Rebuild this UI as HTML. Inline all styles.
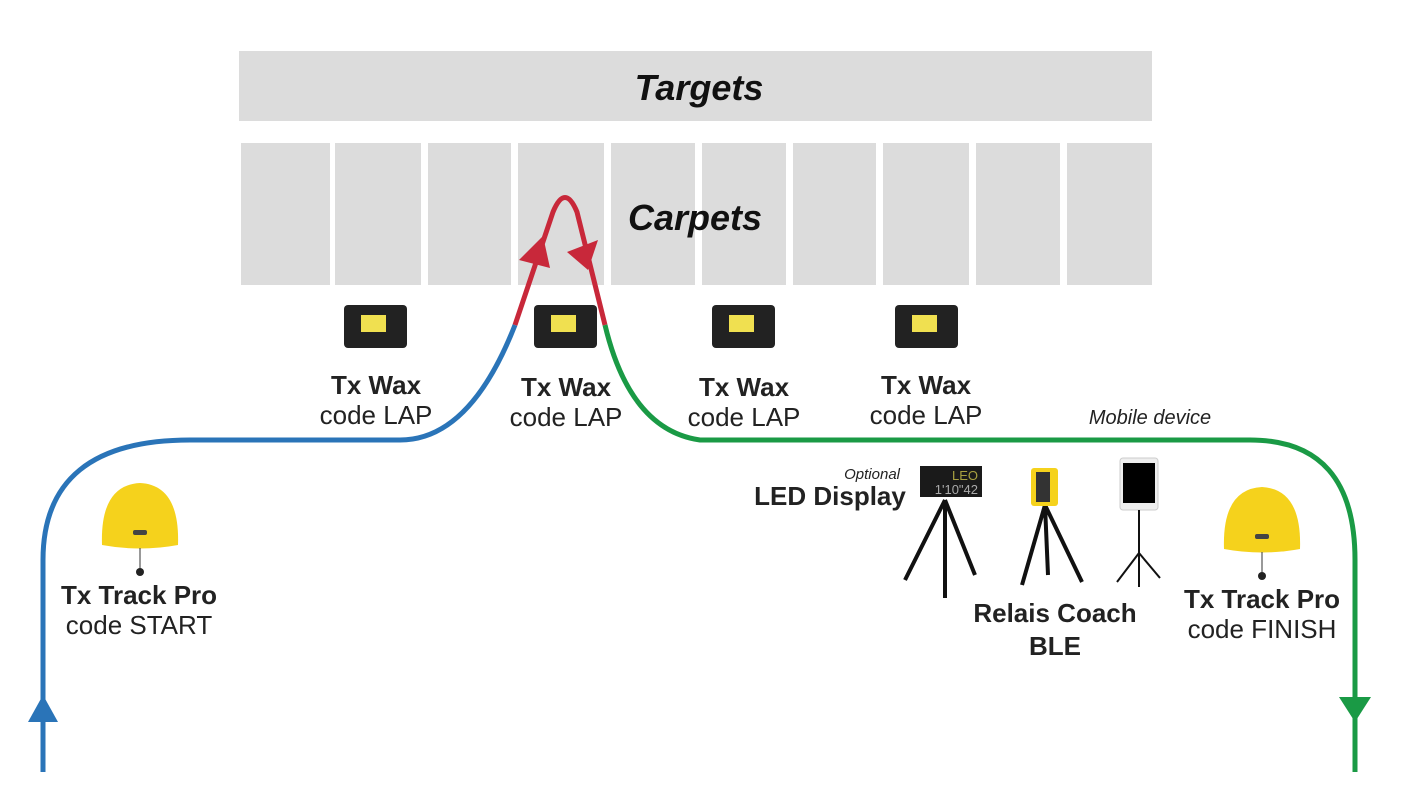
<!DOCTYPE html>
<html><head><meta charset="utf-8"><style>
body{margin:0;width:1408px;height:794px;background:#fff;overflow:hidden;font-family:"Liberation Sans",sans-serif}
</style></head><body>
<svg width="1408" height="794" xmlns="http://www.w3.org/2000/svg" font-family="Liberation Sans, sans-serif">
<rect x="239" y="51" width="913" height="70" fill="#dcdcdc"/>
<text x="699" y="100" text-anchor="middle" font-size="36" font-weight="bold" font-style="italic" fill="#111">Targets</text>
<g fill="#dcdcdc">
<rect x="241" y="143" width="89" height="142"/><rect x="335" y="143" width="86" height="142"/>
<rect x="428" y="143" width="83" height="142"/><rect x="518" y="143" width="86" height="142"/>
<rect x="611" y="143" width="84" height="142"/><rect x="702" y="143" width="84" height="142"/>
<rect x="793" y="143" width="83" height="142"/><rect x="883" y="143" width="86" height="142"/>
<rect x="976" y="143" width="84" height="142"/><rect x="1067" y="143" width="85" height="142"/>
</g>
<text x="695" y="230" text-anchor="middle" font-size="36" font-weight="bold" font-style="italic" fill="#111">Carpets</text>
<path d="M43 772 L43 560 Q43 440 190 440 L400 440 Q470 440 515 325" fill="none" stroke="#2a74b8" stroke-width="5"/>
<path d="M515 325 L553 212 Q565 183 577 212 L605 325" fill="none" stroke="#c8283a" stroke-width="5"/>
<path d="M605 325 Q630 430 700 440 L1250 440 Q1355 440 1355 560 L1355 772" fill="none" stroke="#1a9a45" stroke-width="5"/>
<polygon points="43,695 28,722 58,722" fill="#2a74b8"/>
<polygon points="1355,722 1339,697 1371,697" fill="#1a9a45"/>
<polygon points="543,236 519,260 550,268" fill="#c8283a"/>
<polygon points="567,252 598,240 588,270" fill="#c8283a"/>
<g id="w">
<rect x="344" y="305" width="63" height="43" rx="4" fill="#222"/>
<rect x="361" y="315" width="25" height="17" fill="#f0e050"/>
</g>
<use href="#w" x="190"/><use href="#w" x="368"/><use href="#w" x="551"/>
<g font-size="26" text-anchor="middle" fill="#222">
<text x="376" y="394" font-weight="bold">Tx Wax</text><text x="376" y="424">code LAP</text>
<text x="566" y="396" font-weight="bold">Tx Wax</text><text x="566" y="426">code LAP</text>
<text x="744" y="396" font-weight="bold">Tx Wax</text><text x="744" y="426">code LAP</text>
<text x="926" y="394" font-weight="bold">Tx Wax</text><text x="926" y="424">code LAP</text>
<text x="139" y="604" font-weight="bold">Tx Track Pro</text><text x="139" y="634">code START</text>
<text x="1262" y="608" font-weight="bold">Tx Track Pro</text><text x="1262" y="638">code FINISH</text>
<text x="1055" y="622" font-weight="bold">Relais Coach</text><text x="1055" y="655" font-weight="bold">BLE</text>
<text x="830" y="505" font-weight="bold">LED Display</text>
</g>
<text x="900" y="479" text-anchor="end" font-size="15" font-style="italic" fill="#222">Optional</text>
<text x="1150" y="424" text-anchor="middle" font-size="20" font-style="italic" fill="#222">Mobile device</text>
<g id="tp">
<path d="M102 545 Q100 485 140 483 Q180 485 178 545 Q140 552 102 545Z" fill="#f5d21c"/>
<rect x="133" y="530" width="14" height="5" rx="2" fill="#444"/>
<line x1="140" y1="548" x2="140" y2="570" stroke="#333"/><circle cx="140" cy="572" r="4" fill="#222"/>
</g>
<use href="#tp" x="1122" y="4"/>
<rect x="920" y="466" width="62" height="31" fill="#1a1a1a"/>
<text x="978" y="480" text-anchor="end" font-size="13" fill="#a8a040">LEO</text>
<text x="978" y="494" text-anchor="end" font-size="13" fill="#aaa">1'10"42</text>
<g stroke="#111" stroke-width="4" fill="none">
<path d="M945 500 L905 580 M945 500 L945 598 M945 500 L975 575"/>
<path d="M1045 505 L1022 585 M1045 505 L1048 575 M1045 505 L1082 582"/>
</g>
<rect x="1031" y="468" width="27" height="38" rx="3" fill="#f5d21c"/><rect x="1036" y="472" width="14" height="30" fill="#333"/>
<rect x="1120" y="458" width="38" height="52" rx="3" fill="#eee" stroke="#ccc"/><rect x="1123" y="463" width="32" height="40" fill="#000"/>
<g stroke="#111" stroke-width="2"><path d="M1139 510 L1139 587 M1139 553 L1117 582 M1139 553 L1160 578"/></g>
</svg>
</body></html>
